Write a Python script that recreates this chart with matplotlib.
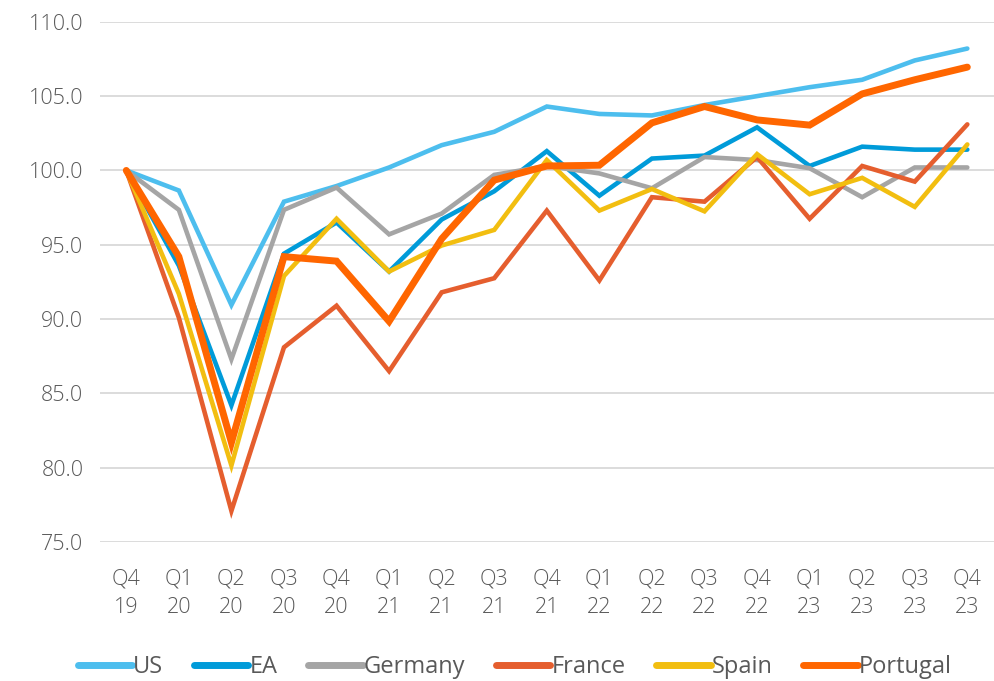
import matplotlib.pyplot as plt

quarters = ["Q4\n19", "Q1\n20", "Q2\n20", "Q3\n20", "Q4\n20", "Q1\n21", "Q2\n21", "Q3\n21",
            "Q4\n21", "Q1\n22", "Q2\n22", "Q3\n22", "Q4\n22", "Q1\n23", "Q2\n23", "Q3\n23", "Q4\n23"]

us = [100.0, 98.65, 90.95, 97.9, 98.95, 100.2, 101.7, 102.6, 104.3, 103.8, 103.7, 104.4,
      105.0, 105.6, 106.1, 107.4, 108.2]
ea = [100.0, 93.6, 84.2, 94.4, 96.5, 93.2, 96.7, 98.6, 101.3, 98.3, 100.8, 101.0,
      102.9, 100.3, 101.6, 101.4, 101.4]
germany = [100.0, 97.35, 87.3, 97.35, 98.85, 95.7, 97.1, 99.7, 100.3, 99.8, 98.8, 100.9,
           100.7, 100.15, 98.2, 100.2, 100.2]
france = [100.0, 90.1, 77.1, 88.1, 90.9, 86.5, 91.8, 92.75, 97.3, 92.6, 98.2, 97.9,
          100.9, 96.75, 100.3, 99.25, 103.1]
spain = [100.0, 91.7, 80.15, 92.9, 96.75, 93.2, 94.95, 96.0, 100.7, 97.3, 98.75, 97.25,
         101.1, 98.4, 99.5, 97.55, 101.75]
portugal = [100.0, 94.2, 81.7, 94.2, 93.9, 89.85, 95.4, 99.35, 100.3, 100.35, 103.2, 104.3,
            103.4, 103.05, 105.15, 106.1, 106.95]

series = [
    ("US", us, "#4DBEEE", 3.3),
    ("EA", ea, "#009BD9", 3.3),
    ("Germany", germany, "#A5A5A5", 3.3),
    ("France", france, "#E55E2E", 3.3),
    ("Spain", spain, "#F2BE10", 3.3),
    ("Portugal", portugal, "#FF6600", 5.0),
]

plt.rcParams['font.family'] = ['Open Sans', 'DejaVu Sans']
text_color = "#595959"

fig = plt.figure(figsize=(9.94, 6.81), dpi=100)
ax = fig.add_axes([0.1006, 0.204, 0.899, 0.764])

x = list(range(len(quarters)))
for name, vals, color, lw in series:
    ax.plot(x, vals, color=color, lw=lw, label=name, solid_capstyle='round',
            solid_joinstyle='miter')

ax.set_xlim(-0.5, len(quarters) - 0.5)
ax.set_ylim(75, 110)
ax.set_yticks([75, 80, 85, 90, 95, 100, 105, 110])
ax.set_yticklabels([f"{v:.1f}" for v in [75, 80, 85, 90, 95, 100, 105, 110]])
ax.set_xticks(x)
ax.set_xticklabels(quarters, linespacing=1.5)

ax.grid(axis='y', color='#D9D9D9', lw=1.3)
ax.set_axisbelow(True)
for s in ax.spines.values():
    s.set_visible(False)
ax.tick_params(axis='both', length=0, labelsize=15.5, colors=text_color)
ax.tick_params(axis='x', pad=19)
ax.tick_params(axis='y', pad=12)
for lbl in ax.get_xticklabels() + ax.get_yticklabels():
    lbl.set_fontweight('light')

leg = fig.legend(loc='lower center', bbox_to_anchor=(0.518, -0.028), ncol=6, frameon=False,
                 fontsize=17, handlelength=2.3, handletextpad=0.05, columnspacing=1.3)
for t in leg.get_texts():
    t.set_color(text_color)
for h in leg.get_lines():
    h.set_linewidth(5)

fig.savefig("out.png", dpi=100)
